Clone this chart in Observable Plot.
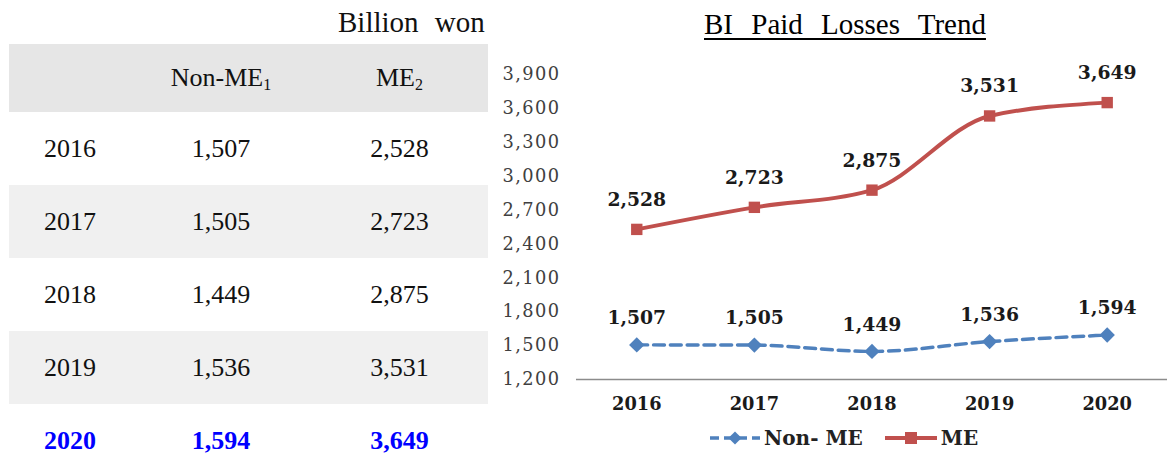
<!DOCTYPE html>
<html>
<head>
<meta charset="utf-8">
<script src="https://cdn.jsdelivr.net/npm/d3@7"></script>
<script src="https://cdn.jsdelivr.net/npm/@observablehq/plot@0.6"></script>
<style>
  html, body { margin: 0; padding: 0; background: #fff; }
  body { width: 1167px; height: 457px; overflow: hidden; position: relative; }
  #unit { position: absolute; left: 338px; top: 6px; font: 29px "Liberation Serif", serif; word-spacing: 9px; color: #111; white-space: nowrap; }
  table { position: absolute; left: 9px; top: 44px; width: 479px; border-collapse: collapse; font: 26px "Liberation Serif", serif; color: #111; table-layout: fixed; }
  td, th { text-align: center; padding: 0; font-weight: normal; }
  tr.head { background: #e6e6e6; height: 68px; }
  tr.row { height: 73px; }
  tr.alt { background: #f0f0f0; }
  tr.hl td { color: #0000ff; font-weight: bold; }
  sub { font-size: 16px; vertical-align: -4px; line-height: 0; }
  #title { position: absolute; left: 704px; top: 8px; font: 29px "Liberation Serif", serif; word-spacing: 11px; text-decoration: underline; text-decoration-thickness: 1.5px; text-underline-offset: 4px; color: #000; white-space: nowrap; }
  #chart { position: absolute; left: 490px; top: 50px; }
  #legend { position: absolute; left: 708px; top: 426px; display: flex; align-items: center; font: bold 20px "DejaVu Serif", serif; color: #222; white-space: nowrap; }
  #legend .item { display: flex; align-items: center; margin-right: 20px; }
  #legend svg { margin-right: 2px; }
</style>
</head>
<body>
<div id="unit">Billion won</div>
<table id="tbl"></table>
<div id="title">BI Paid Losses Trend</div>
<div id="chart"></div>
<div id="legend"></div>
<script>
const years = ["2016", "2017", "2018", "2019", "2020"];
const nonME = [1507, 1505, 1449, 1536, 1594];
const ME = [2528, 2723, 2875, 3531, 3649];
const yTicks = [1200, 1500, 1800, 2100, 2400, 2700, 3000, 3300, 3600, 3900];
const seriesNames = ["Non- ME", "ME"];
const colHeads = ["", "Non-ME", "ME"];
const colSubs = ["", "1", "2"];

const fmt = d3.format(",");

// Table
const tbl = document.getElementById("tbl");
const colgroup = document.createElement("colgroup");
[122, 180, 177].forEach(w => { const c = document.createElement("col"); c.style.width = w + "px"; colgroup.appendChild(c); });
tbl.appendChild(colgroup);
const hr = document.createElement("tr"); hr.className = "head";
colHeads.forEach((h, i) => {
  const th = document.createElement("th");
  th.innerHTML = h + (colSubs[i] ? "<sub>" + colSubs[i] + "</sub>" : "");
  hr.appendChild(th);
});
tbl.appendChild(hr);
years.forEach((y, i) => {
  const tr = document.createElement("tr");
  tr.className = "row" + (i % 2 === 1 ? " alt" : "") + (i === years.length - 1 ? " hl" : "");
  [y, fmt(nonME[i]), fmt(ME[i])].forEach(v => { const td = document.createElement("td"); td.textContent = v; tr.appendChild(td); });
  tbl.appendChild(tr);
});

// Chart data
const nonData = years.map((y, i) => ({year: y, value: nonME[i]}));
const meData = years.map((y, i) => ({year: y, value: ME[i]}));
const red = "#c0504d", blue = "#4f81bd";

const chart = Plot.plot({
  width: 685, height: 373,
  marginLeft: 87, marginRight: 0, marginTop: 24, marginBottom: 40,
  x: {type: "point", domain: years, padding: 0.5, label: null},
  y: {domain: [1200, 3900], label: null},
  style: {fontFamily: "DejaVu Serif", background: "transparent", overflow: "visible"},
  marks: [
    Plot.axisY({ticks: yTicks, tickSize: 0, tickPadding: 16, tickFormat: fmt, fontSize: 18, fill: "#404040", label: null}),
    Plot.axisX({tickSize: 0, tickPadding: 18, fontSize: 18, fontWeight: "bold", fill: "#1a1a1a", label: null}),
    Plot.ruleY([1200], {stroke: "#8c8c8c", strokeWidth: 1.5}),
    Plot.line(nonData, {x: "year", y: "value", stroke: blue, strokeWidth: 3.5, strokeDasharray: "11,6", curve: "monotone-x"}),
    Plot.line(meData, {x: "year", y: "value", stroke: red, strokeWidth: 4, curve: "monotone-x"}),
    Plot.dot(nonData, {x: "year", y: "value", symbol: "diamond2", r: 7, fill: blue, stroke: "none"}),
    Plot.dot(meData, {x: "year", y: "value", symbol: "square", r: 6.5, fill: red, stroke: "none"}),
    Plot.text(nonData, {x: "year", y: "value", text: d => fmt(d.value), dy: -27, fontSize: 19, fontWeight: "bold", fill: "#1a1a1a"}),
    Plot.text(meData, {x: "year", y: "value", text: d => fmt(d.value), dy: -30, fontSize: 19, fontWeight: "bold", fill: "#1a1a1a"})
  ]
});
document.getElementById("chart").appendChild(chart);
chart.querySelectorAll('g[aria-label="y-axis tick label"] text').forEach(t => t.style.letterSpacing = "1.5px");

// Legend
const legend = document.getElementById("legend");
const swatches = [
  `<svg width="54" height="20"><line x1="2" y1="10" x2="52" y2="10" stroke="${blue}" stroke-width="3.5" stroke-dasharray="9,5"/><path transform="translate(27,10)" d="${d3.symbol(d3.symbolDiamond2, 110)()}" fill="${blue}"/></svg>`,
  `<svg width="56" height="20"><line x1="2" y1="10" x2="54" y2="10" stroke="${red}" stroke-width="4"/><rect x="22" y="4" width="12" height="12" fill="${red}"/></svg>`
];
seriesNames.forEach((n, i) => {
  const it = document.createElement("div"); it.className = "item";
  it.innerHTML = swatches[i] + "<span>" + n + "</span>";
  legend.appendChild(it);
});
</script>
</body>
</html>
